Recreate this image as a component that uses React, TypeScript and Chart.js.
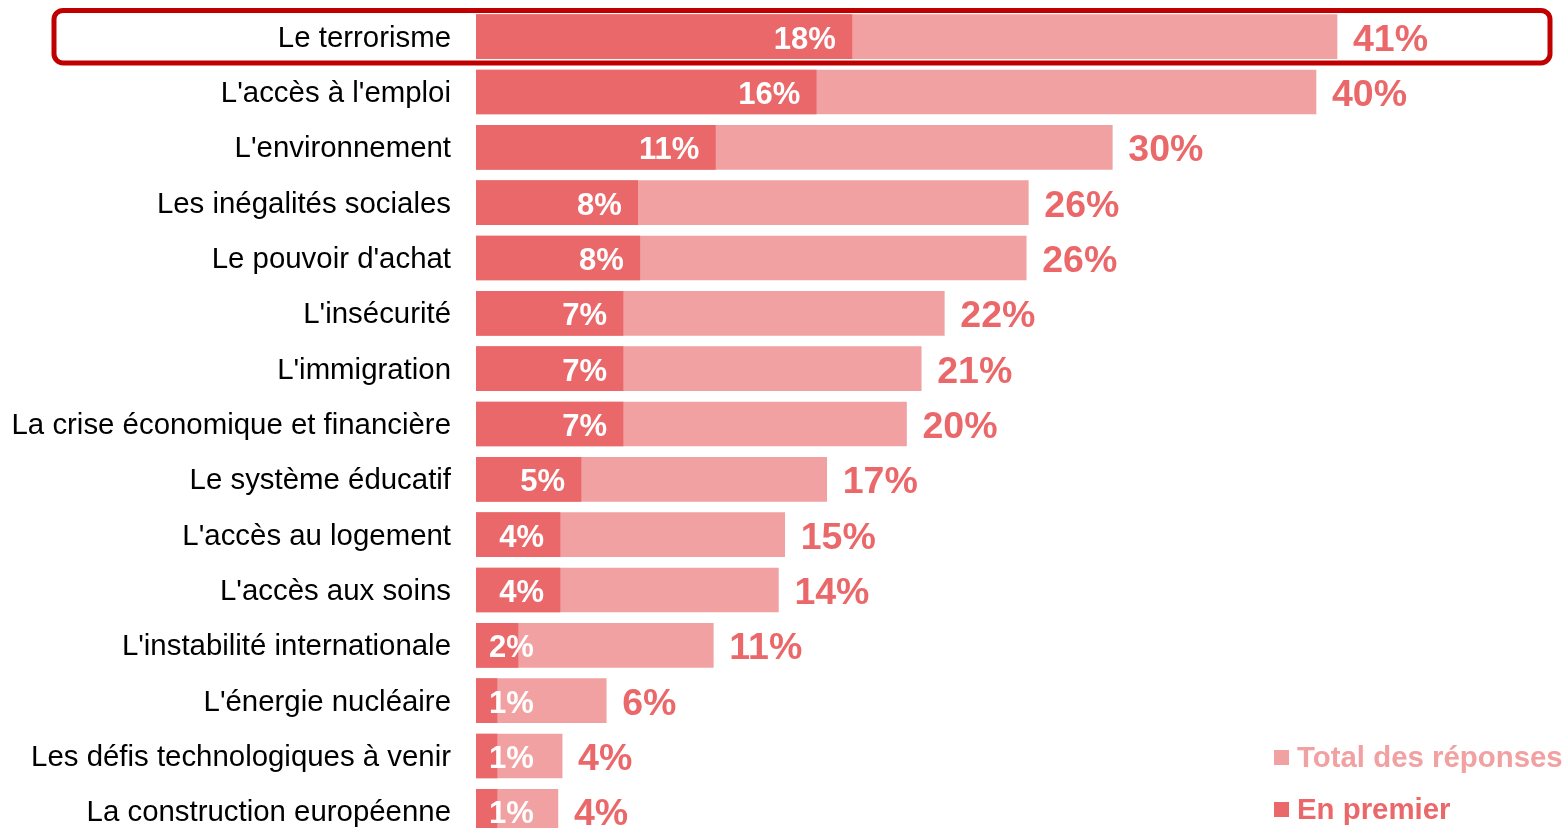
import React, { useEffect, useRef } from "react";
import { Chart, registerables } from "chart.js";

Chart.register(...registerables);

const categories = [
  "Le terrorisme",
  "L'accès à l'emploi",
  "L'environnement",
  "Les inégalités sociales",
  "Le pouvoir d'achat",
  "L'insécurité",
  "L'immigration",
  "La crise économique et financière",
  "Le système éducatif",
  "L'accès au logement",
  "L'accès aux soins",
  "L'instabilité internationale",
  "L'énergie nucléaire",
  "Les défis technologiques à venir",
  "La construction européenne",
];

const totalValues = [41.0, 40.0, 30.3, 26.3, 26.2, 22.3, 21.2, 20.5, 16.7, 14.7, 14.4, 11.3, 6.2, 4.1, 3.9];
const firstValues = [17.9, 16.2, 11.4, 7.7, 7.8, 7.0, 7.0, 7.0, 5.0, 4.0, 4.0, 2.0, 1.0, 1.0, 1.0];

const totalLabels = ["41%", "40%", "30%", "26%", "26%", "22%", "21%", "20%", "17%", "15%", "14%", "11%", "6%", "4%", "4%"];
const firstLabels = ["18%", "16%", "11%", "8%", "8%", "7%", "7%", "7%", "5%", "4%", "4%", "2%", "1%", "1%", "1%"];

const seriesNames = ["Total des réponses", "En premier"];
const highlightedIndex = 0;

const DARK = "#EB686A";
const LIGHT = "#F2A1A2";
const BOX = "#C00000";
const FONT = '"Liberation Sans", Arial, sans-serif';

const valueLabelsPlugin = {
  id: "valueLabels",
  afterDatasetsDraw(chart: any) {
    const ctx = chart.ctx;
    const metaFirst = chart.getDatasetMeta(0);
    const metaTotal = chart.getDatasetMeta(1);
    ctx.save();
    ctx.textBaseline = "alphabetic";
    ctx.font = `bold 31px ${FONT}`;
    ctx.fillStyle = "#FFFFFF";
    ctx.textAlign = "right";
    metaFirst.data.forEach((bar: any, i: number) => {
      const txt = firstLabels[i];
      const w = ctx.measureText(txt).width;
      const right = Math.max(bar.x - 16, bar.base + 13 + w);
      ctx.fillText(txt, right, bar.y + 12);
    });
    ctx.font = `bold 37.5px ${FONT}`;
    ctx.fillStyle = DARK;
    ctx.textAlign = "left";
    metaTotal.data.forEach((bar: any, i: number) => {
      ctx.fillText(totalLabels[i], bar.x + 16, bar.y + 14);
    });
    ctx.restore();
  },
};

const highlightPlugin = {
  id: "highlight",
  afterDraw(chart: any) {
    const ctx = chart.ctx;
    const y = chart.scales.y.getPixelForValue(highlightedIndex);
    ctx.save();
    ctx.lineWidth = 5;
    ctx.strokeStyle = BOX;
    ctx.beginPath();
    ctx.roundRect(54, y - 26.2, 1496, 52.5, 9);
    ctx.stroke();
    ctx.restore();
  },
};

const legendPlugin = {
  id: "customLegend",
  afterDraw(chart: any) {
    const ctx = chart.ctx;
    const items = [
      { text: seriesNames[0], color: LIGHT, y: 750 },
      { text: seriesNames[1], color: DARK, y: 802 },
    ];
    ctx.save();
    ctx.font = `bold 29.4px ${FONT}`;
    ctx.textAlign = "left";
    ctx.textBaseline = "alphabetic";
    items.forEach((it) => {
      ctx.fillStyle = it.color;
      ctx.fillRect(1274, it.y, 15, 15);
      ctx.fillText(it.text, 1297, it.y + 17);
    });
    ctx.restore();
  },
};

export default function App() {
  const canvasRef = useRef<HTMLCanvasElement | null>(null);

  useEffect(() => {
    if (!canvasRef.current) return;
    const chart = new Chart(canvasRef.current, {
      type: "bar",
      data: {
        labels: categories,
        datasets: [
          {
            label: seriesNames[1],
            data: firstValues,
            backgroundColor: DARK,
            barThickness: 44,
            grouped: false,
          } as any,
          {
            label: seriesNames[0],
            data: totalValues,
            backgroundColor: LIGHT,
            barThickness: 44,
            grouped: false,
          } as any,
        ],
      },
      options: {
        indexAxis: "y",
        animation: false,
        responsive: true,
        maintainAspectRatio: false,
        layout: { padding: { top: 9, bottom: 1, left: 0, right: 40 } },
        plugins: {
          legend: { display: false },
          tooltip: { enabled: false },
        },
        scales: {
          x: {
            min: 0,
            max: 50,
            display: false,
            grid: { display: false },
          },
          y: {
            grid: { display: false, drawTicks: false },
            border: { display: false },
            afterFit: (scale: any) => {
              scale.width = 476;
              scale.paddingTop = 0;
              scale.paddingBottom = 0;
            },
            ticks: {
              color: "#000000",
              padding: 25,
              labelOffset: 2,
              font: { family: FONT, size: 29.4 },
            },
          },
        },
      },
      plugins: [valueLabelsPlugin, highlightPlugin, legendPlugin],
    });
    return () => chart.destroy();
  }, []);

  return (
    <div style={{ position: "fixed", left: 0, top: 0, width: 1566, height: 840, background: "#FFFFFF" }}>
      <canvas ref={canvasRef} />
    </div>
  );
}
